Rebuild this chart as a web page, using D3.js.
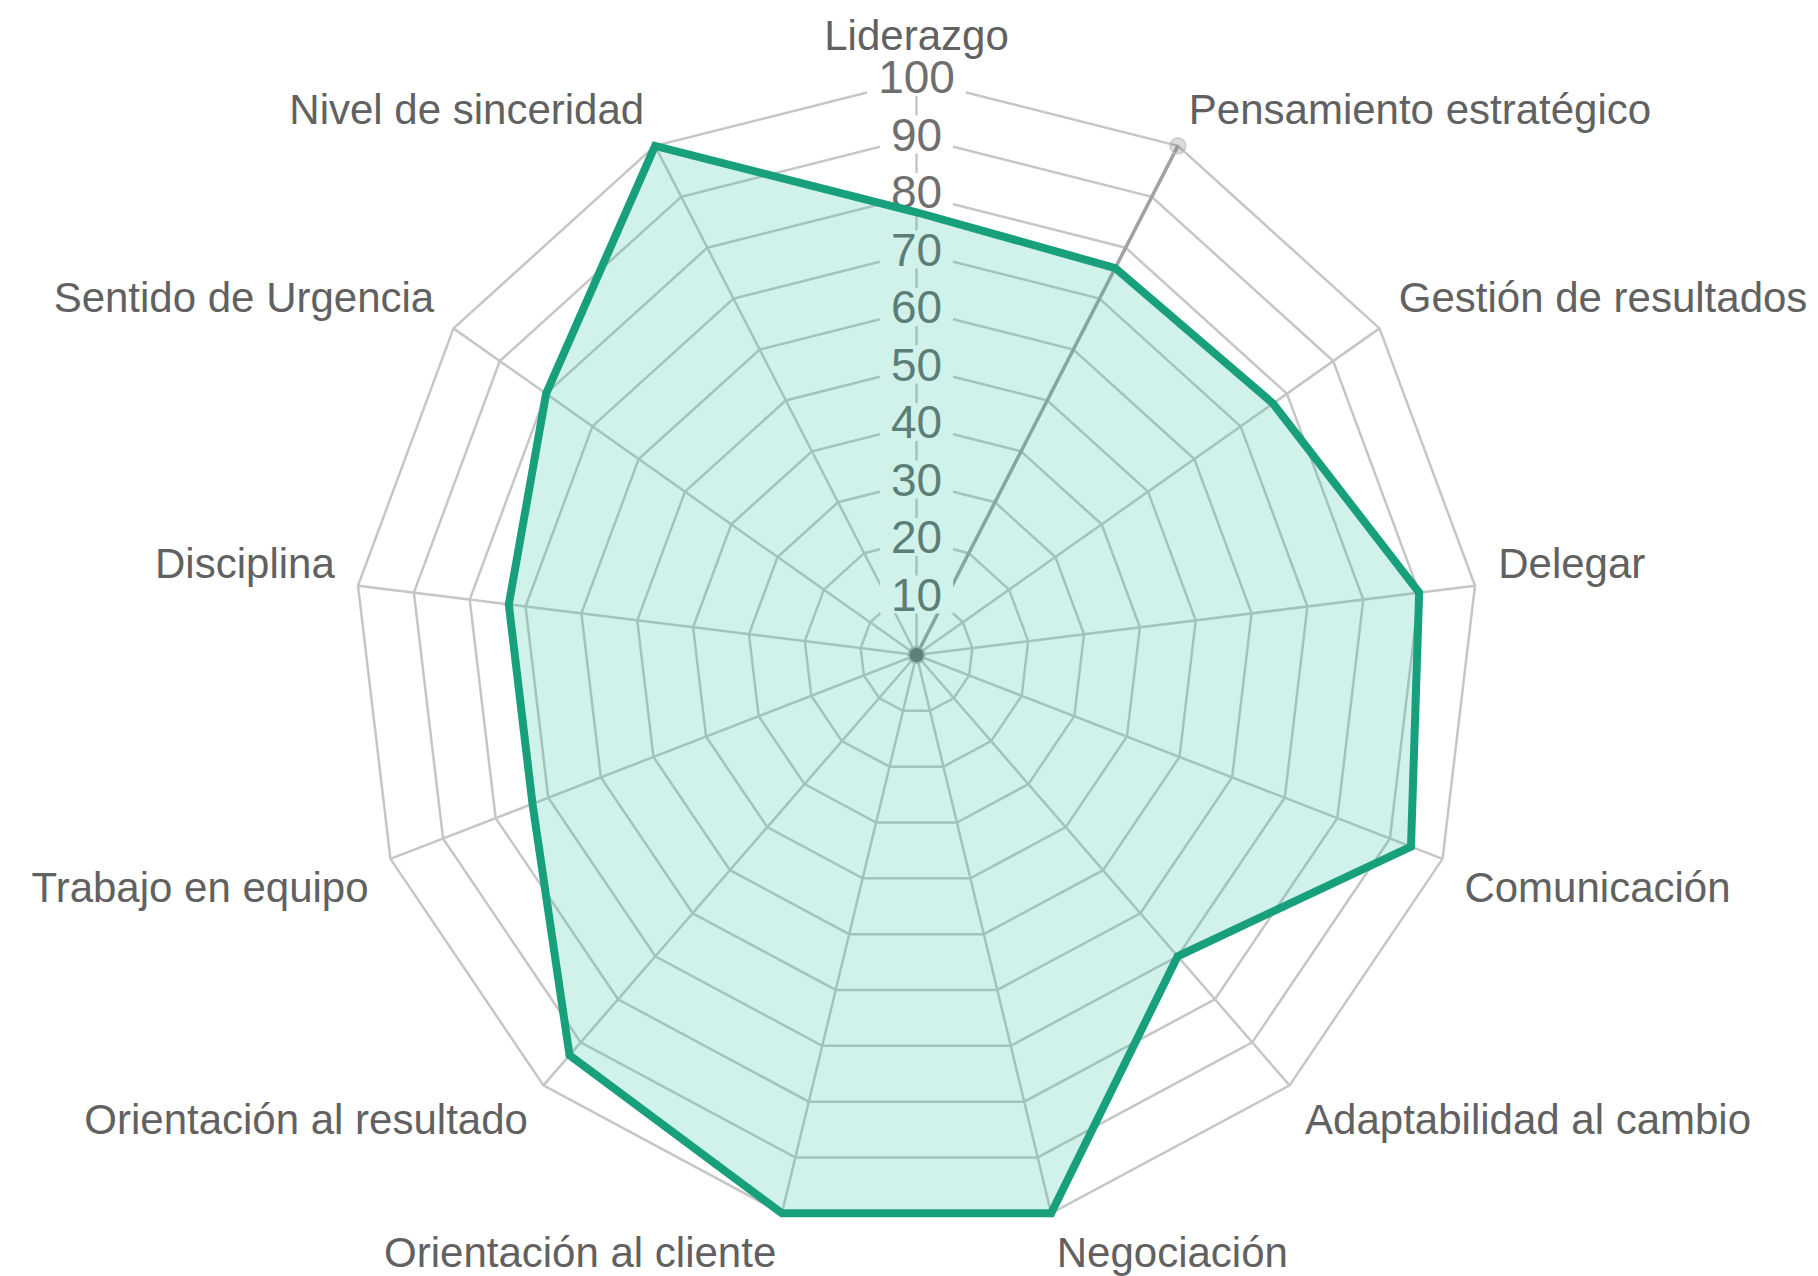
<!DOCTYPE html>
<html>
<head>
<meta charset="utf-8">
<script src="https://cdn.jsdelivr.net/npm/d3@7"></script>
<style>
  html, body { margin: 0; padding: 0; background: #ffffff; }
  svg { display: block; }
</style>
</head>
<body>
<script>
// ---- Data ----
const categories = [
  "Liderazgo", "Pensamiento estratégico", "Gestión de resultados", "Delegar",
  "Comunicación", "Adaptabilidad al cambio", "Negociación", "Orientación al cliente",
  "Orientación al resultado", "Trabajo en equipo", "Disciplina",
  "Sentido de Urgencia", "Nivel de sinceridad"
];
const valores = [77, 76, 77, 90, 94, 70, 100, 100, 93, 73, 73, 80, 100];
const referencia = [0, 100, 0, 0, 0, 0, 0, 0, 0, 0, 0, 0, 0];
const tickValues = [10, 20, 30, 40, 50, 60, 70, 80, 90, 100];
const tickLabels = ["10", "20", "30", "40", "50", "60", "70", "80", "90", "100"];

// ---- Layout ----
const W = 1818, H = 1276;
const cx = 916.5, cy = 655;
const svg = d3.select("body").append("svg").attr("width", W).attr("height", H);

const rx = d3.scaleLinear().domain([0, 100]).range([0, 562.6]);
const ry = d3.scaleLinear().domain([0, 100]).range([0, 575]);
const angle = d3.scaleLinear().domain([0, categories.length]).range([0, 2 * Math.PI]);

const px = (i, v) => cx + rx(v) * Math.sin(angle(i));
const py = (i, v) => cy - ry(v) * Math.cos(angle(i));
const poly = vals => vals.map((v, i) => [px(i, v), py(i, v)]);
const line = d3.line().curve(d3.curveLinearClosed);

const gridColor = "#c6c6c6";

// grid rings
svg.append("g").selectAll("path").data(tickValues).join("path")
  .attr("d", t => line(categories.map((c, i) => [px(i, t), py(i, t)])))
  .attr("fill", "none").attr("stroke", gridColor).attr("stroke-width", 2.5);

// spokes
svg.append("g").selectAll("line").data(categories).join("line")
  .attr("x1", cx).attr("y1", cy)
  .attr("x2", (d, i) => px(i, 100)).attr("y2", (d, i) => py(i, 100))
  .attr("stroke", gridColor).attr("stroke-width", 2.5);

// secondary (gray) series
svg.append("path")
  .attr("d", line(poly(referencia)))
  .attr("fill", "none").attr("stroke", "#a2a2a2").attr("stroke-width", 3.5);
svg.append("g").selectAll("circle").data(referencia).join("circle")
  .attr("cx", (v, i) => px(i, v)).attr("cy", (v, i) => py(i, v))
  .attr("r", 8)
  .attr("fill", "rgba(110,110,110,0.25)")
  .attr("stroke", "rgba(190,190,190,0.7)").attr("stroke-width", 1.5);

// tick labels with white background
const tg = svg.append("g");
tickValues.forEach((t, k) => {
  const y = cy - ry(t) - 3;
  const txt = tg.append("text")
    .attr("x", cx).attr("y", y).attr("dy", "0.35em")
    .attr("text-anchor", "middle")
    .attr("font-family", "Liberation Sans, Arial, sans-serif")
    .attr("font-size", 46).attr("fill", "#6f6f6f")
    .text(tickLabels[k]);
  const bb = txt.node().getBBox();
  tg.insert("rect", "text")
    .attr("x", bb.x - 11).attr("y", y - 19)
    .attr("width", bb.width + 22).attr("height", 38)
    .attr("fill", "#ffffff");
});

// main series
svg.append("path")
  .attr("d", line(poly(valores)))
  .attr("fill", "rgba(26,188,156,0.2)")
  .attr("stroke", "#18a07d").attr("stroke-width", 8)
  .attr("stroke-linejoin", "miter");

// category labels
svg.append("g").selectAll("text").data(categories).join("text")
  .attr("x", (d, i) => {
    const s = Math.sin(angle(i));
    return Math.abs(s) < 0.01 ? cx : cx + 586 * s;
  })
  .attr("y", (d, i) => {
    const a = angle(i), s = Math.sin(a), c = Math.cos(a);
    const topLift = Math.abs(s) < 0.01 ? 5 : 0;
    return cy - 615 * c - 18 * Math.sign(c) * Math.pow(s, 4) - topLift;
  })
  .attr("dy", "0.35em")
  .attr("text-anchor", (d, i) => {
    const s = Math.sin(angle(i));
    return Math.abs(s) < 0.01 ? "middle" : (s > 0 ? "start" : "end");
  })
  .attr("font-family", "Liberation Sans, Arial, sans-serif")
  .attr("font-size", 42).attr("fill", "#616161")
  .text(d => d);
</script>
</body>
</html>
